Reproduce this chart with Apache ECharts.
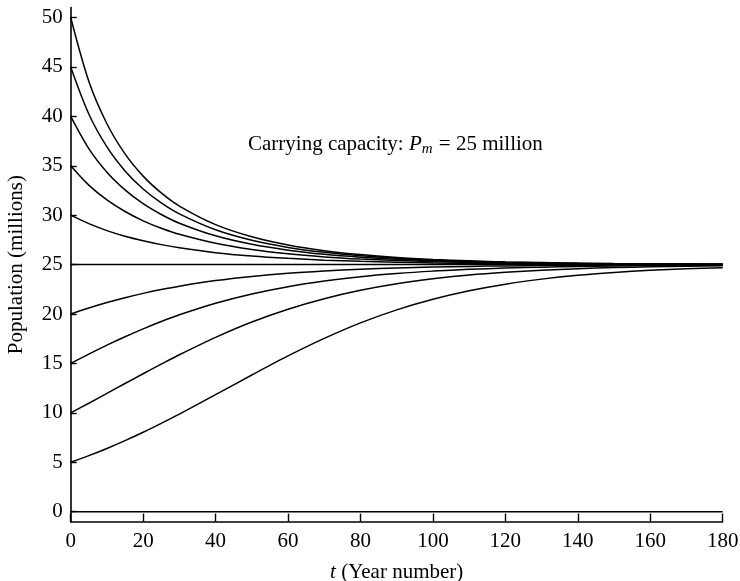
<!DOCTYPE html>
<html>
<head>
<meta charset="utf-8">
<script src="https://cdn.jsdelivr.net/npm/echarts@6/dist/echarts.min.js"></script>
<style>html,body{margin:0;padding:0;background:#fff;}#c{width:740px;height:581px;}</style>
</head>
<body>
<div id="c"></div>
<script>
const years = [0,5,10,15,20,25,30,40,50,60,70,80,90,100,110,120,130,140,150,160,170,180];
const xTicks = [0,20,40,60,80,100,120,140,160,180];
const yTicks = [0,5,10,15,20,25,30,35,40,45,50];
const p0  = [0,0,0,0,0,0,0,0,0,0,0,0,0,0,0,0,0,0,0,0,0,0];
const p5  = [5.0,5.67,6.40,7.19,8.04,8.94,9.87,11.84,13.83,15.76,17.53,19.10,20.42,21.49,22.35,23.02,23.53,23.92,24.20,24.42,24.57,24.69];
const p10 = [10.0,10.97,11.97,12.97,13.96,14.93,15.88,17.64,19.19,20.49,21.55,22.40,23.06,23.56,23.94,24.22,24.43,24.58,24.70,24.78,24.84,24.88];
const p15 = [15.0,15.94,16.85,17.70,18.50,19.24,19.92,21.09,22.03,22.77,23.34,23.78,24.10,24.34,24.52,24.65,24.74,24.81,24.86,24.90,24.93,24.95];
const p20 = [20.0,20.61,21.16,21.65,22.09,22.48,22.82,23.38,23.80,24.12,24.35,24.53,24.65,24.75,24.82,24.87,24.90,24.93,24.95,24.96,24.97,24.98];
const p25 = [25,25,25,25,25,25,25,25,25,25,25,25,25,25,25,25,25,25,25,25,25,25];
const p30 = [30.0,29.14,28.44,27.87,27.41,27.02,26.70,26.21,25.87,25.63,25.45,25.33,25.24,25.17,25.12,25.09,25.07,25.05,25.03,25.03,25.02,25.01];
const p35 = [35.0,33.04,31.54,30.37,29.43,28.68,28.07,27.16,26.53,26.09,25.78,25.56,25.41,25.30,25.21,25.15,25.11,25.08,25.06,25.04,25.03,25.02];
const p40 = [40.0,36.74,34.35,32.56,31.16,30.07,29.19,27.91,27.05,26.46,26.04,25.75,25.54,25.39,25.28,25.20,25.15,25.11,25.08,25.06,25.04,25.03];
const p45 = [45.0,40.24,36.91,34.48,32.65,31.24,30.13,28.52,27.46,26.74,26.24,25.89,25.64,25.46,25.33,25.24,25.17,25.13,25.09,25.07,25.05,25.04];
const p50 = [50.0,43.55,39.25,36.20,33.95,32.25,30.92,29.04,27.81,26.98,26.41,26.01,25.72,25.52,25.38,25.27,25.20,25.14,25.10,25.08,25.05,25.04];

const curves = [p0,p5,p10,p15,p20,p25,p30,p35,p40,p45,p50];
const FONT = '"Liberation Serif", "DejaVu Serif", serif';
const FS = 21;

const chart = echarts.init(document.getElementById('c'), null, {renderer:'canvas'});
chart.setOption({
  animation: false,
  backgroundColor: '#fff',
  grid: {left: 70.7, right: 17.3, top: 7.6, bottom: 59.4, containLabel: false, outerBoundsMode: 'none'},
  xAxis: {
    type: 'value', min: 0, max: 180, interval: 20,
    name: '{i|t} (Year number)', nameLocation: 'middle', nameGap: 40,
    nameTextStyle: {color:'#000', fontSize: FS, fontFamily: FONT,
      rich: {i: {fontStyle:'italic', fontSize: FS, fontFamily: FONT, color:'#000'}}},
    axisLine: {show: true, onZero: false, lineStyle: {color:'#000', width: 1.6}},
    axisTick: {show: true, inside: true, length: 8, lineStyle: {color:'#000', width: 1.4}, customValues: xTicks},
    axisLabel: {color:'#000', fontSize: FS, fontFamily: FONT, margin: 9, customValues: xTicks},
    splitLine: {show: false}
  },
  yAxis: {
    type: 'value', min: -1, max: 51,
    name: 'Population (millions)', nameLocation: 'middle', nameGap: 44,
    nameTextStyle: {color:'#000', fontSize: FS, fontFamily: FONT},
    axisLine: {show: true, onZero: false, lineStyle: {color:'#000', width: 1.6}},
    axisTick: {show: true, inside: true, length: 6, lineStyle: {color:'#000', width: 1.4}, customValues: yTicks},
    axisLabel: {color:'#000', fontSize: FS, fontFamily: FONT, margin: 8, customValues: yTicks},
    splitLine: {show: false}
  },
  graphic: [{
    type: 'text', left: 248, top: 134, z: 100,
    style: {
      text: 'Carrying capacity: {i|P}{s|m} = 25 million',
      fill: '#000', font: FS + 'px ' + FONT,
      rich: {
        i: {fontStyle:'italic', fontSize: FS, fontFamily: FONT, fill:'#000'},
        s: {fontStyle:'italic', fontSize: 15, fontFamily: FONT, fill:'#000', padding:[10,1,0,0]}
      }
    }
  }],
  series: curves.map((c, k) => ({
    type: 'line', showSymbol: false, smooth: 0.3,
    lineStyle: {color:'#000', width: 1.5},
    data: years.map((t, i) => [t, c[i]])
  }))
});
</script>
</body>
</html>
